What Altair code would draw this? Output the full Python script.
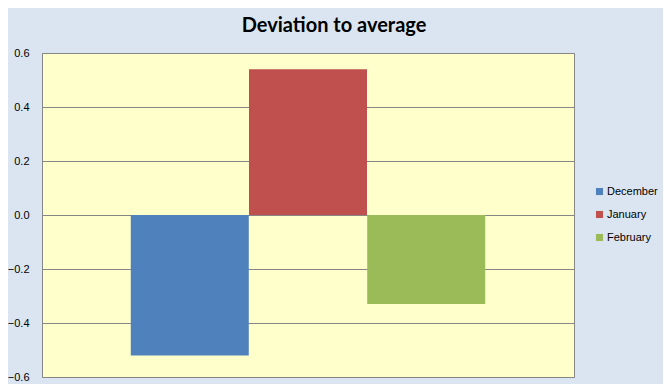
import altair as alt
import pandas as pd

months = ["December", "January", "February"]
values = [-0.52, 0.54, -0.33]
colors = ["#4F81BD", "#C0504D", "#9BBB59"]
y_ticks = [-0.6, -0.4, -0.2, 0.0, 0.2, 0.4, 0.6]

df = pd.DataFrame({"month": months, "value": values})

chart = alt.Chart(df).mark_bar(size=118).encode(
    x=alt.X("month:N", sort=months, axis=None,
            scale=alt.Scale(paddingInner=0, paddingOuter=0.75)),
    y=alt.Y("value:Q",
            scale=alt.Scale(domain=[-0.6, 0.6], nice=False),
            axis=alt.Axis(values=y_ticks, format=".1f", title=None,
                          domain=False, ticks=False, labelPadding=13,
                          labelFont="Liberation Sans", labelFontSize=11,
                          labelColor="#000000", gridColor="#868686",
                          gridWidth=1)),
    color=alt.Color("month:N", sort=months,
                    scale=alt.Scale(domain=months, range=colors),
                    legend=alt.Legend(title=None, orient="none",
                                      legendX=552, legendY=133,
                                      symbolType="square", symbolSize=50,
                                      symbolStrokeWidth=0,
                                      labelFont="Liberation Sans",
                                      labelFontSize=11, labelColor="#000000",
                                      rowPadding=11, labelOffset=2)),
).properties(
    width=532,
    height=324,
    title=alt.TitleParams("Deviation to average", font="Lato", fontSize=20,
                          fontWeight="bold", color="#000000", dx=26, dy=24,
                          baseline="alphabetic", offset=19),
    padding={"left": 34, "top": 45, "right": 89, "bottom": 7},
    autosize=alt.AutoSizeParams(type="none"),
    background="#DBE5F1",
).configure_view(
    fill="#FFFFCC", stroke="#868686", strokeWidth=1
)

chart.save("out.html", embed_options={"renderer": "svg", "actions": False})
